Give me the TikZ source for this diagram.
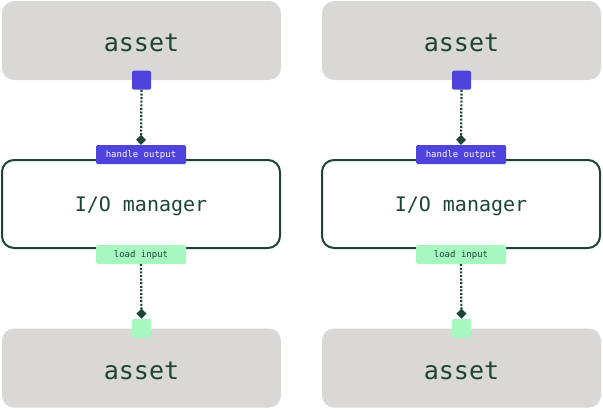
\documentclass[tikz,border=0pt]{standalone}
\usepackage{fontspec}
\setmonofont{DejaVu Sans Mono}
\usetikzlibrary{arrows.meta}
\usetikzlibrary{positioning}

\definecolor{assetgray}{HTML}{DAD8D6}
\definecolor{ioline}{HTML}{1D4536}
\definecolor{outpurple}{HTML}{4F43DD}
\definecolor{inmint}{HTML}{A7F7C1}

\begin{document}
\begin{tikzpicture}[%
  x=1pt, y=-1pt,
  >={Diamond[length=10pt,width=10pt]},
  asset/.style={fill=assetgray, rounded corners=12pt, minimum width=279pt,
    minimum height=79pt, inner sep=0pt, text=ioline, text height=22pt, text depth=0pt,
    font=\ttfamily\fontsize{25}{25}\selectfont},
  manager/.style={draw=ioline, line width=2pt, fill=white, rounded corners=12pt,
    minimum width=278pt, minimum height=88pt, inner sep=0pt, text=ioline,
    text height=14pt, text depth=0pt, font=\ttfamily\fontsize{20}{20}\selectfont},
  tag/.style={rounded corners=1.5pt, minimum width=90pt, minimum height=19pt,
    inner sep=0pt, text height=6.4pt, text depth=0pt,
    font=\ttfamily\fontsize{9}{9}\selectfont},
  port/.style={rounded corners=2pt, minimum size=19pt, inner sep=0pt},
  link/.style={ioline, line width=2.2pt, dash pattern=on 2pt off 1.6pt},
]

  \useasboundingbox (0,0) rectangle (603,410);

  \foreach \col/\dx in {l/0, r/320} {
    % assets
    \node[asset] (top-\col) at (141.5+\dx, 40.5) {asset};
    \node[asset] (bot-\col) at (141.5+\dx, 368) {asset};

    % io manager
    \node[manager] (iom-\col) at (141+\dx, 204) {I/O manager};
    \node[tag, fill=outpurple, text=white] (out-\col) at (141+\dx, 154.5) {handle output};
    \node[tag, fill=inmint, text=ioline] (in-\col) at (141+\dx, 254.5) {load input};

    % ports
    \node[port, fill=outpurple] (po-\col) at (top-\col.south) {};
    \node[port, fill=inmint] (pi-\col) at (bot-\col.north) {};

    \draw[link, ->] (po-\col.south) -- (out-\col.north);
    \draw[link, ->] (in-\col.south) -- (pi-\col.north);
  }

\end{tikzpicture}
\end{document}
